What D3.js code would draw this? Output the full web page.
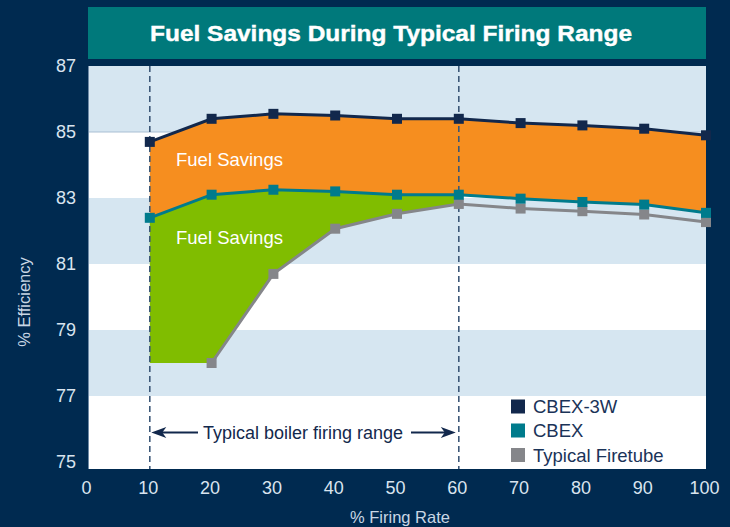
<!DOCTYPE html>
<html>
<head>
<meta charset="utf-8">
<script src="https://cdn.jsdelivr.net/npm/d3@7"></script>
<style>
  html, body { margin: 0; padding: 0; background: #002a50; }
  svg { display: block; }
  text { font-family: "Liberation Sans", Arial, Helvetica, sans-serif; }
</style>
</head>
<body>
<svg id="chart" width="730" height="527"></svg>
<script>
// ---- Data ----
const firingRate = [10, 20, 30, 40, 50, 60, 70, 80, 90, 100];
const cbex3w    = [84.7, 85.4, 85.55, 85.5, 85.4, 85.4, 85.27, 85.2, 85.1, 84.9];
const cbex      = [82.4, 83.1, 83.25, 83.2, 83.1, 83.1, 82.98, 82.88, 82.8, 82.55];
const firetube  = [null, 78.0, 80.7, 82.07, 82.52, 82.82, 82.68, 82.6, 82.5, 82.27];
const greenFloorAt10 = 78.0;
const xTicks = [0, 10, 20, 30, 40, 50, 60, 70, 80, 90, 100];
const yTicks = [75, 77, 79, 81, 83, 85, 87];
const bands = [[85, 87], [81, 83], [77, 79]];
const rangeBounds = [10, 60];
const seriesNames = ["CBEX-3W", "CBEX", "Typical Firetube"];
const seriesColors = ["#12284c", "#007b8c", "#85868a"];
const titleText = "Fuel Savings During Typical Firing Range";

// ---- Layout ----
const svg = d3.select("#chart");
const L = 88, R = 706, T = 66, B = 469;
const x = d3.scaleLinear().domain([0, 100]).range([L, R]);
const y = d3.scaleLinear().domain([75, 87]).range([462, 66]);

// background
svg.append("rect").attr("width", 730).attr("height", 527).attr("fill", "#002a50");

// title banner
svg.append("rect").attr("x", L).attr("y", 7).attr("width", R - L).attr("height", 52).attr("fill", "#00797b");
svg.append("text").attr("x", 391).attr("y", 41)
  .attr("text-anchor", "middle").attr("fill", "#ffffff")
  .attr("font-size", 22.5).attr("font-weight", "bold")
  .attr("stroke", "#ffffff").attr("stroke-width", 0.4)
  .attr("textLength", 482).attr("lengthAdjust", "spacingAndGlyphs")
  .text(titleText);

// plot area
svg.append("rect").attr("x", L).attr("y", T).attr("width", R - L).attr("height", B - T).attr("fill", "#ffffff");
svg.selectAll("rect.band").data(bands).join("rect").attr("class", "band")
  .attr("x", L).attr("width", R - L)
  .attr("y", d => y(d[1])).attr("height", d => y(d[0]) - y(d[1]))
  .attr("fill", "#d6e6f1");
svg.append("line").attr("x1", L).attr("x2", R).attr("y1", y(85)).attr("y2", y(85))
  .attr("stroke", "#a9bfd3").attr("stroke-width", 1);
svg.append("line").attr("x1", L + 0.5).attr("x2", L + 0.5).attr("y1", T).attr("y2", B)
  .attr("stroke", "#6f8aa6").attr("stroke-width", 1);

// fills
const idx = firingRate.map((d, i) => i);
const orangeArea = d3.area()
  .x(i => x(firingRate[i])).y0(i => y(cbex[i])).y1(i => y(cbex3w[i]));
svg.append("path").attr("d", orangeArea(idx)).attr("fill", "#f68e1f");

const greenIdx = idx.filter(i => firingRate[i] <= 60);
const greenArea = d3.area()
  .x(i => x(firingRate[i]))
  .y0(i => y(firetube[i] == null ? greenFloorAt10 : firetube[i]))
  .y1(i => y(cbex[i]));
svg.append("path").attr("d", greenArea(greenIdx)).attr("fill", "#80bd00");

// dashed range lines
svg.selectAll("line.range").data(rangeBounds).join("line").attr("class", "range")
  .attr("x1", d => x(d)).attr("x2", d => x(d)).attr("y1", T).attr("y2", B)
  .attr("stroke", "#3c5878").attr("stroke-width", 1.6).attr("stroke-dasharray", "6,4");

// series lines + markers
const allSeries = [cbex3w, cbex, firetube];
const lineGen = d3.line().defined(d => d[1] != null).x(d => x(d[0])).y(d => y(d[1]));
[2, 1, 0].forEach(s => {
  const pts = firingRate.map((f, i) => [f, allSeries[s][i]]);
  svg.append("path").attr("d", lineGen(pts)).attr("fill", "none")
    .attr("stroke", seriesColors[s]).attr("stroke-width", 3);
});
[2, 1, 0].forEach(s => {
  const pts = firingRate.map((f, i) => [f, allSeries[s][i]]).filter(d => d[1] != null);
  svg.selectAll(null).data(pts).join("rect")
    .attr("x", d => x(d[0]) - 5).attr("y", d => y(d[1]) - 5)
    .attr("width", 10).attr("height", 10).attr("fill", seriesColors[s]);
});

// Fuel savings labels
svg.append("text").attr("x", 176).attr("y", 166).attr("fill", "#ffffff").attr("font-size", 18.5).text("Fuel Savings");
svg.append("text").attr("x", 176).attr("y", 244).attr("fill", "#ffffff").attr("font-size", 18.5).text("Fuel Savings");

// firing range annotation
const ay = 432.5;
const navy = "#12284c";
function arrowHead(tipX, dir) {
  const len = 15, half = 5.5, notch = 4;
  return `M${tipX},${ay} L${tipX - dir * len},${ay - half} L${tipX - dir * (len - notch)},${ay} L${tipX - dir * len},${ay + half} Z`;
}
svg.append("line").attr("x1", x(10) + 8).attr("x2", 198).attr("y1", ay).attr("y2", ay)
  .attr("stroke", navy).attr("stroke-width", 2.2);
svg.append("path").attr("d", arrowHead(x(10) + 1.5, -1)).attr("fill", navy);
svg.append("line").attr("x1", 411).attr("x2", x(60) - 8).attr("y1", ay).attr("y2", ay)
  .attr("stroke", navy).attr("stroke-width", 2.2);
svg.append("path").attr("d", arrowHead(x(60) - 3, 1)).attr("fill", navy);
svg.append("text").attr("x", 203).attr("y", 439).attr("fill", navy).attr("font-size", 17.5)
  .attr("textLength", 200).attr("lengthAdjust", "spacingAndGlyphs")
  .text("Typical boiler firing range");

// legend
const legY = [406.5, 430.5, 455];
seriesNames.forEach((n, i) => {
  svg.append("rect").attr("x", 511).attr("y", legY[i] - 7).attr("width", 14).attr("height", 14).attr("fill", seriesColors[i]);
  svg.append("text").attr("x", 533).attr("y", legY[i] + 6.5).attr("fill", "#1a3358").attr("font-size", 18.5).text(n);
});

// axes
const axisColor = "#d9e4ef";
const xAxis = svg.append("g").attr("transform", `translate(0,${B})`)
  .call(d3.axisBottom(x).tickValues(xTicks).tickSize(0).tickPadding(12));
xAxis.select(".domain").remove();
xAxis.selectAll("text").attr("fill", axisColor).attr("font-size", 18)
  .attr("font-family", "Liberation Sans, Arial, sans-serif").attr("dx", -2);

const yAxis = svg.append("g").attr("transform", `translate(${L},0)`)
  .call(d3.axisLeft(y).tickValues(yTicks).tickSize(0).tickPadding(12));
yAxis.select(".domain").remove();
yAxis.selectAll("text").attr("fill", axisColor).attr("font-size", 18)
  .attr("font-family", "Liberation Sans, Arial, sans-serif").attr("dy", "0.3em");

// axis titles
svg.append("text").attr("x", 400).attr("y", 523).attr("text-anchor", "middle")
  .attr("fill", "#c9d7e5").attr("font-size", 16.5).text("% Firing Rate");
svg.append("text").attr("transform", "translate(30,302) rotate(-90)").attr("text-anchor", "middle")
  .attr("fill", "#c9d7e5").attr("font-size", 16.5).text("% Efficiency");
</script>
</body>
</html>
